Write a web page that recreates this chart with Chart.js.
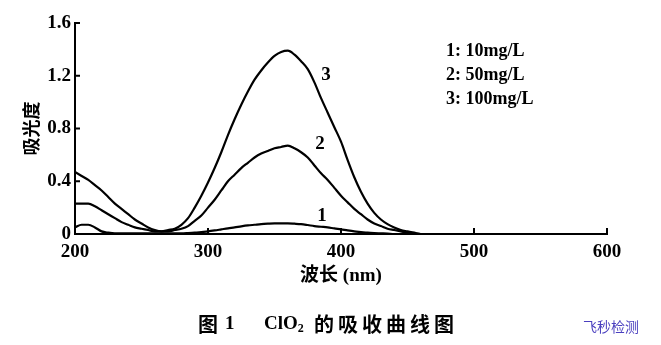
<!DOCTYPE html>
<html>
<head>
<meta charset="utf-8">
<script src="https://cdn.jsdelivr.net/npm/chart.js@4.4.1/dist/chart.umd.min.js"></script>
<style>
html,body{margin:0;padding:0;background:#fff;}
#wrap{position:relative;width:661px;height:345px;}
</style>
</head>
<body>
<div id="wrap"><canvas id="c" width="661" height="345"></canvas></div>
<script>
// Wavelengths (nm)
const wavelengths = [200,205,210,215,220,225,230,235,240,245,250,255,260,265,270,275,280,285,290,295,300,305,310,315,320,325,330,335,340,345,350,355,360,365,370,375,380,385,390,395,400,405,410,415,420,425,430,435,440,445,450,455,460,465,470,480,500,550,600];
// Curve 1: 10 mg/L
const curve1 = [0.05,0.07,0.07,0.05,0.02,0.01,0.005,0.005,0.005,0.005,0.005,0.005,0.005,0.005,0.005,0.005,0.005,0.007,0.01,0.015,0.02,0.027,0.035,0.043,0.05,0.058,0.065,0.07,0.075,0.078,0.08,0.08,0.08,0.078,0.075,0.068,0.06,0.055,0.05,0.042,0.035,0.027,0.02,0.015,0.01,0.007,0.005,0.003,0,0,0,0,0,0,0,0,0,0,0];
// Curve 2: 50 mg/L
const curve2 = [0.23,0.23,0.23,0.21,0.18,0.15,0.12,0.09,0.07,0.05,0.04,0.03,0.02,0.02,0.02,0.03,0.04,0.06,0.10,0.14,0.20,0.26,0.33,0.40,0.45,0.50,0.54,0.58,0.61,0.63,0.65,0.66,0.67,0.65,0.62,0.58,0.52,0.46,0.41,0.35,0.29,0.24,0.19,0.15,0.11,0.08,0.06,0.04,0.03,0.02,0.01,0.005,0,0,0,0,0,0,0];
// Curve 3: 100 mg/L
const curve3 = [0.47,0.44,0.41,0.37,0.33,0.28,0.23,0.19,0.15,0.11,0.08,0.05,0.03,0.02,0.03,0.04,0.07,0.12,0.20,0.29,0.39,0.50,0.62,0.75,0.87,0.98,1.08,1.17,1.24,1.30,1.35,1.38,1.39,1.36,1.31,1.25,1.15,1.03,0.92,0.81,0.70,0.56,0.43,0.32,0.23,0.16,0.11,0.075,0.05,0.03,0.02,0.01,0,0,0,0,0,0,0];

const xTicks = [200,300,400,500,600];
const yTicks = [0,0.4,0.8,1.2,1.6];
const xTitle = '波长 (nm)';
const yTitle = '吸光度';
const legendLines = ['1: 10mg/L','2: 50mg/L','3: 100mg/L'];
const curveLabels = ['1','2','3'];
const captionChars = ['图','1','ClO','的','吸','收','曲','线','图'];
const watermark = '飞秒检测';

const SERIF = "'Liberation Serif','Noto Sans CJK SC',serif";

function ds(vals){
  return {
    data: wavelengths.map((x,i)=>({x:x,y:vals[i]})),
    borderColor:'#000',
    borderWidth:2.2,
    pointRadius:0,
    fill:false,
    cubicInterpolationMode:'monotone'
  };
}

const decor = {
  id:'decor',
  afterDraw(chart){
    const ctx = chart.ctx;
    const xs = chart.scales.x, ys = chart.scales.y;
    const ca = chart.chartArea;
    ctx.save();
    ctx.strokeStyle='#000';
    ctx.lineWidth=2;
    // inward ticks
    xTicks.forEach(v=>{
      if(v===200) return;
      const px = xs.getPixelForValue(v);
      ctx.beginPath(); ctx.moveTo(px, ca.bottom); ctx.lineTo(px, ca.bottom-6); ctx.stroke();
    });
    yTicks.forEach(v=>{
      if(v===0) return;
      const py = ys.getPixelForValue(v);
      ctx.beginPath(); ctx.moveTo(ca.left, py); ctx.lineTo(ca.left+5, py); ctx.stroke();
    });
    ctx.fillStyle='#000';
    // y title (vertical)
    ctx.save();
    ctx.translate(30, ys.getPixelForValue(0.8));
    ctx.rotate(-Math.PI/2);
    ctx.font = "bold 18px 'Noto Sans CJK SC'";
    ctx.textAlign='center'; ctx.textBaseline='middle';
    ctx.fillText(yTitle, 0, 1);
    ctx.restore();
    // x title
    ctx.font = "bold 19px " + SERIF;
    ctx.textAlign='center'; ctx.textBaseline='middle';
    ctx.fillText(xTitle, xs.getPixelForValue(400), 276);
    // legend
    ctx.font = "bold 18px " + SERIF;
    ctx.textAlign='left';
    const ly = [51,75,99];
    legendLines.forEach((t,i)=>ctx.fillText(t, 446, ly[i]));
    // curve labels
    ctx.font = "bold 19px " + SERIF;
    ctx.textAlign='center';
    const lp = [[322,216],[320,144],[326,75]];
    curveLabels.forEach((t,i)=>ctx.fillText(t, lp[i][0], lp[i][1]));
    // caption
    const cy = 324;
    ctx.font = "bold 20px 'Noto Sans CJK SC'";
    ctx.textAlign='left';
    ctx.fillText(captionChars[0], 198, cy);
    ctx.font = "bold 19px " + SERIF;
    ctx.fillText(captionChars[1], 225, cy);
    ctx.fillText(captionChars[2], 264, cy);
    const w = ctx.measureText(captionChars[2]).width;
    ctx.font = "bold 12px " + SERIF;
    ctx.fillText('2', 264+w, cy+5);
    ctx.font = "bold 20px 'Noto Sans CJK SC'";
    for(let i=3;i<captionChars.length;i++){
      ctx.fillText(captionChars[i], 314 + (i-3)*24, cy);
    }
    // watermark
    ctx.font = "14px 'Noto Sans CJK SC'";
    ctx.fillStyle = '#4a3fbf';
    ctx.fillText(watermark, 583, 327);
    ctx.restore();
  }
};

new Chart(document.getElementById('c'), {
  type:'line',
  data:{ datasets:[ds(curve1), ds(curve2), ds(curve3)] },
  options:{
    responsive:false,
    animation:false,
    events:[],
    layout:{ padding:{ top:23, right:54, left:0, bottom:0 } },
    plugins:{ legend:{display:false}, tooltip:{enabled:false} },
    scales:{
      x:{
        type:'linear', min:200, max:600,
        afterBuildTicks(s){ s.ticks = xTicks.map(v=>({value:v})); },
        afterFit(s){ s.height = 111; },
        ticks:{ color:'#000', font:{family:SERIF, size:19, weight:'bold'}, padding:7, maxRotation:0, autoSkip:false },
        grid:{ display:true, drawOnChartArea:false, drawTicks:false },
        border:{ display:true, color:'#000', width:2 }
      },
      y:{
        min:0, max:1.6,
        afterBuildTicks(s){ s.ticks = yTicks.map(v=>({value:v})); },
        afterFit(s){ s.width = 75; },
        ticks:{ color:'#000', font:{family:SERIF, size:19, weight:'bold'}, padding:4,
          callback:(v)=> v===0 ? '0' : Number(v).toFixed(1) },
        grid:{ display:true, drawOnChartArea:false, drawTicks:false },
        border:{ display:true, color:'#000', width:2 }
      }
    }
  },
  plugins:[decor]
});
</script>
</body>
</html>
